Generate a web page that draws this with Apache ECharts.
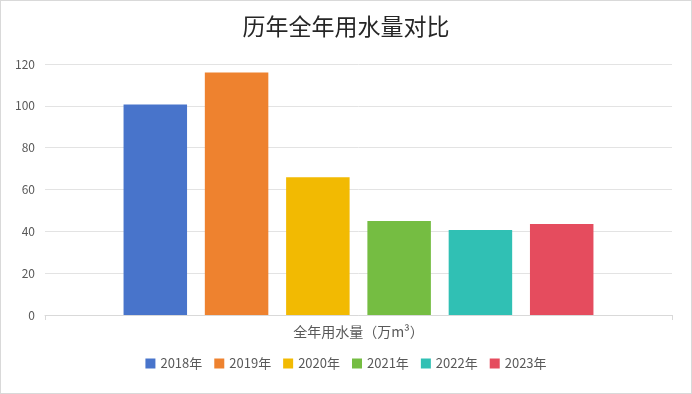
<!DOCTYPE html>
<html><head><meta charset="utf-8">
<script src="https://cdn.jsdelivr.net/npm/echarts@6/dist/echarts.min.js"></script>
<style>html,body{margin:0;padding:0;background:#fff}#c{width:692px;height:394px;box-sizing:border-box;border:1px solid #d9d9d9}</style>
</head><body><div id="c"></div>
<script>
const title = '历年全年用水量对比';
const categories = ['全年用水量（万m³）'];
const seriesNames = ['2018年','2019年','2020年','2021年','2022年','2023年'];
const values = [100.6, 115.9, 65.9, 44.9, 40.6, 43.5];
const colors = ['#4874CB','#EE822F','#F2BA02','#75BD42','#30C0B4','#E54C5E'];
const yTicks = {min: 0, max: 120, interval: 20};

const chart = echarts.init(document.getElementById('c'), null, {renderer: 'canvas'});
const font = '"Noto Sans CJK SC","Noto Sans",sans-serif';
chart.setOption({
  animation: false,
  textStyle: {fontFamily: font},
  title: {text: title, left: 'center', top: 9,
    textStyle: {fontSize: 23, fontWeight: 'normal', color: '#262626', fontFamily: font}},
  legend: {bottom: 18, left: 'center', icon: 'rect', itemWidth: 10, itemHeight: 10, itemGap: 12,
    textStyle: {fontSize: 13, color: '#595959', fontFamily: font}, data: seriesNames},
  grid: {left: 44, right: 19, top: 63, bottom: 78},
  xAxis: {type: 'category', data: categories,
    axisLine: {lineStyle: {color: '#d9d9d9'}},
    axisTick: {show: true, length: 5, lineStyle: {color: '#d9d9d9'}},
    axisLabel: {fontSize: 14, color: '#595959', margin: 10}},
  yAxis: {type: 'value', min: yTicks.min, max: yTicks.max, interval: yTicks.interval,
    axisLine: {show: false}, axisTick: {show: false},
    axisLabel: {fontSize: 12, color: '#595959', margin: 10},
    splitLine: {lineStyle: {color: '#e3e3e3'}}},
  series: seriesNames.map((n, i) => ({
    name: n, type: 'bar', data: [values[i]], barWidth: 63.5, barGap: '28%',
    itemStyle: {color: colors[i]}
  }))
});
</script></body></html>
